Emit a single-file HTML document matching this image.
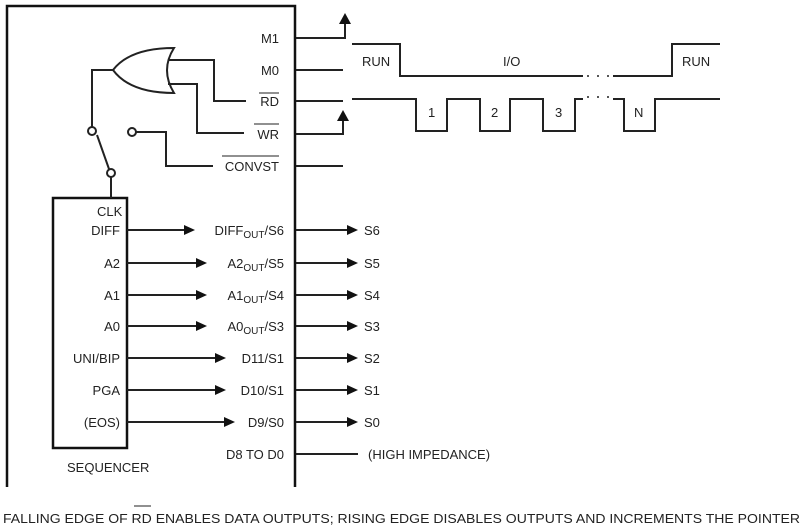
<!DOCTYPE html>
<html><head><meta charset="utf-8"><style>
html,body{margin:0;padding:0;background:#fff}
svg{display:block}
text{font-family:"Liberation Sans",sans-serif;font-size:13px;fill:#222}
</style></head><body>
<svg width="804" height="527" viewBox="0 0 804 527" xmlns="http://www.w3.org/2000/svg">
<g stroke="#111" stroke-width="2.5" fill="none">
<polyline points="7,487 7,6 295,6 295,487"/>
<rect x="53" y="198" width="74" height="250"/>
</g>
<g stroke="#222" stroke-width="2" fill="none">
<!-- pins -->
<polyline points="296,38 345,38 345,22"/>
<line x1="296" y1="70" x2="343" y2="70"/>
<line x1="296" y1="101" x2="343" y2="101"/>
<polyline points="296,134 343,134 343,118"/>
<line x1="296" y1="166" x2="343" y2="166"/>
<!-- OR gate -->
<path d="M113,70 Q130,48 174,48 Q160,70 174,93 Q130,93 113,70 Z"/>
<polyline points="168,60 214,60 214,101 246,101"/>
<polyline points="168,84 197,84 197,133 244,133"/>
<polyline points="113,70 92,70 92,127"/>
<line x1="97" y1="135" x2="109" y2="169"/>
<line x1="111" y1="177" x2="111" y2="198"/>
<polyline points="136,132 166,132 166,166 213,166"/>
<!-- waveforms -->
<polyline points="352,44 400,44 400,76 583,76"/>
<polyline points="613,76 672,76 672,44 720,44"/>
<polyline points="352,99 416,99 416,131 447,131 447,99 480,99 480,131 510,131 510,99 543,99 543,131 575,131 575,99 583,99"/>
<polyline points="613,99 624,99 624,131 655,131 655,99 720,99"/>
<!-- outputs -->
<line x1="127" y1="230" x2="185" y2="230"/>
<line x1="127" y1="263" x2="197" y2="263"/>
<line x1="127" y1="295" x2="197" y2="295"/>
<line x1="127" y1="326" x2="197" y2="326"/>
<line x1="127" y1="358" x2="216" y2="358"/>
<line x1="127" y1="390" x2="216" y2="390"/>
<line x1="127" y1="422" x2="225" y2="422"/>
<line x1="296" y1="230" x2="348" y2="230"/>
<line x1="296" y1="263" x2="348" y2="263"/>
<line x1="296" y1="295" x2="348" y2="295"/>
<line x1="296" y1="326" x2="348" y2="326"/>
<line x1="296" y1="358" x2="348" y2="358"/>
<line x1="296" y1="390" x2="348" y2="390"/>
<line x1="296" y1="422" x2="348" y2="422"/>
<line x1="296" y1="454" x2="358" y2="454"/>
</g>
<g fill="#fff" stroke="#222" stroke-width="2">
<circle cx="92" cy="131" r="4"/><circle cx="132" cy="132" r="4"/><circle cx="111" cy="173" r="4"/>
</g>
<g fill="#111">
<polygon points="345,13 339,24 351,24"/>
<polygon points="343,110 337,121 349,121"/>
<polygon points="195,230 184,225 184,235"/><polygon points="207,263 196,258 196,268"/>
<polygon points="207,295 196,290 196,300"/><polygon points="207,326 196,321 196,331"/>
<polygon points="226,358 215,353 215,363"/><polygon points="226,390 215,385 215,395"/>
<polygon points="235,422 224,417 224,427"/>
<polygon points="358,230 347,225 347,235"/><polygon points="358,263 347,258 347,268"/>
<polygon points="358,295 347,290 347,300"/><polygon points="358,326 347,321 347,331"/>
<polygon points="358,358 347,353 347,363"/><polygon points="358,390 347,385 347,395"/>
<polygon points="358,422 347,417 347,427"/>
</g>
<g fill="#222">
<circle cx="588" cy="76" r="1"/><circle cx="598" cy="76" r="1"/><circle cx="608" cy="76" r="1"/>
<circle cx="588" cy="97" r="1"/><circle cx="598" cy="97" r="1"/><circle cx="608" cy="97" r="1"/>
</g>
<g text-anchor="end">
<text x="279" y="43">M1</text><text x="279" y="75">M0</text>
<text x="279" y="106">RD</text><text x="279" y="139">WR</text><text x="279" y="171">CONVST</text>
<text x="120" y="235">DIFF</text><text x="120" y="268">A2</text><text x="120" y="300">A1</text>
<text x="120" y="331">A0</text><text x="120" y="363">UNI/BIP</text><text x="120" y="395">PGA</text>
<text x="120" y="427">(EOS)</text>
<text x="284" y="235">DIFF<tspan font-size="10" dy="3">OUT</tspan><tspan dy="-3">/S6</tspan></text>
<text x="284" y="268">A2<tspan font-size="10" dy="3">OUT</tspan><tspan dy="-3">/S5</tspan></text>
<text x="284" y="300">A1<tspan font-size="10" dy="3">OUT</tspan><tspan dy="-3">/S4</tspan></text>
<text x="284" y="331">A0<tspan font-size="10" dy="3">OUT</tspan><tspan dy="-3">/S3</tspan></text>
<text x="284" y="363">D11/S1</text><text x="284" y="395">D10/S1</text><text x="284" y="427">D9/S0</text>
<text x="284" y="459">D8 TO D0</text>
</g>
<g stroke="#222" stroke-width="1">
<line x1="259" y1="93" x2="279" y2="93"/><line x1="254" y1="124" x2="279" y2="124"/><line x1="222" y1="156" x2="279" y2="156"/>
<line x1="134" y1="506" x2="151" y2="506"/>
</g>
<text x="97" y="216">CLK</text>
<text x="67" y="472">SEQUENCER</text>
<text x="364" y="235">S6</text><text x="364" y="268">S5</text><text x="364" y="300">S4</text>
<text x="364" y="331">S3</text><text x="364" y="363">S2</text><text x="364" y="395">S1</text>
<text x="364" y="427">S0</text><text x="368" y="459">(HIGH IMPEDANCE)</text>
<text x="362" y="66">RUN</text><text x="503" y="66">I/O</text><text x="682" y="66">RUN</text>
<text x="428" y="117">1</text><text x="491" y="117">2</text><text x="555" y="117">3</text><text x="634" y="117">N</text>
<text x="3" y="523" textLength="797" lengthAdjust="spacingAndGlyphs">FALLING EDGE OF RD ENABLES DATA OUTPUTS; RISING EDGE DISABLES OUTPUTS AND INCREMENTS THE POINTER</text>
</svg>
</body></html>
